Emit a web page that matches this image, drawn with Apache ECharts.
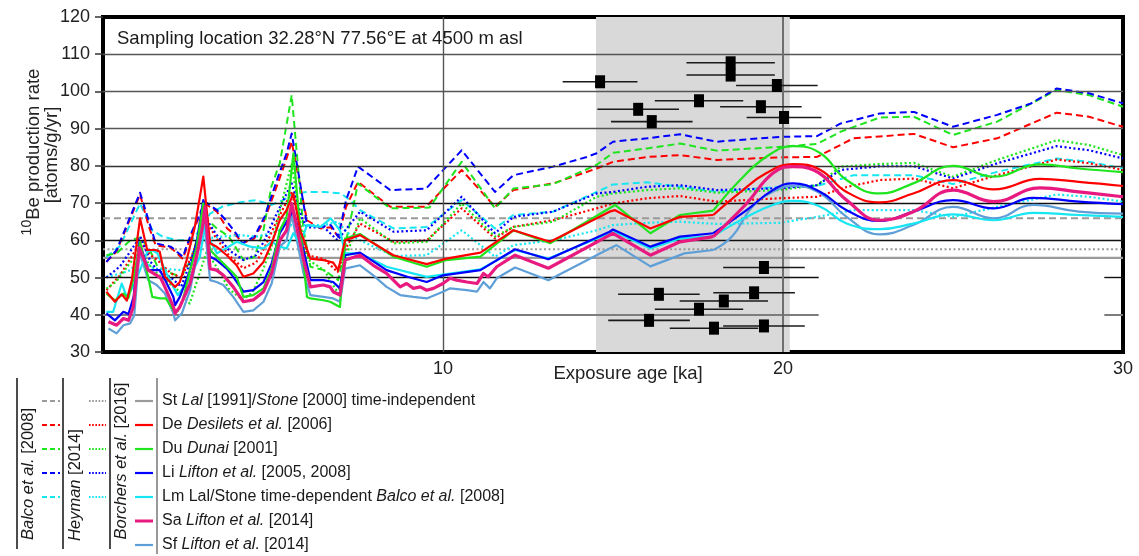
<!DOCTYPE html>
<html>
<head>
<meta charset="utf-8">
<script src="https://cdn.jsdelivr.net/npm/echarts@6.0.0/dist/echarts.min.js"></script>
<style>
  html, body { margin: 0; padding: 0; background: #ffffff; }
  #chart { width: 1139px; height: 556px; }
</style>
</head>
<body>
<div id="chart"></div>
<script>
// 10Be production-rate curves, each point is [exposure age (ka), rate (atoms/g/yr)]

// Balco et al. [2008] scaling (dashed)
const balcoDe = [[0.1,54.2],[0.4,57.0],[1.09,72.3],[1.35,63.6],[1.55,58.7],[2.0,58.0],[2.35,55.0],[2.6,61.5],[3.0,69.9],[3.35,67.7],[3.65,63.2],[3.95,61.0],[4.1,59.2],[4.45,60.5],[4.75,65.5],[5.15,75.5],[5.4,82.0],[5.55,86.5],[5.75,77.0],[6.0,65.4],[6.4,63.2],[6.7,63.5],[6.92,61.0],[7.15,69.0],[7.5,75.7],[8.45,69.0],[9.5,69.0],[10.55,78.9],[11.53,69.0],[12.07,73.5],[13.24,75.3],[14.52,79.3],[15.0,81.1],[16.0,82.4],[16.97,82.9],[18.05,81.6],[19.9,82.3],[21.0,82.4],[22.07,87.4],[23.85,88.6],[25.0,85.0],[26.3,87.4],[28.05,94.3],[29.0,93.2],[30,90.5]];
const balcoDu = [[0.1,56.0],[0.4,56.5],[0.8,60.0],[1.1,60.8],[1.4,57.0],[1.6,53.0],[1.9,51.5],[2.3,50.2],[2.6,55.0],[2.95,66.5],[3.35,63.2],[3.7,61.0],[3.95,57.4],[4.13,54.7],[4.45,55.5],[4.72,62.7],[4.95,74.4],[5.2,80.7],[5.55,99.0],[5.9,62.7],[6.1,52.9],[6.5,52.0],[6.92,49.3],[7.2,62.0],[7.5,75.3],[8.45,68.6],[9.6,68.8],[10.55,81.1],[11.53,68.6],[12.07,73.9],[13.24,75.1],[14.52,80.3],[15.0,83.5],[16.0,84.7],[16.97,86.0],[18.05,84.1],[19.9,85.1],[21.0,85.9],[21.7,89.2],[22.85,93.0],[23.85,93.2],[25.0,88.3],[26.3,91.9],[28.05,100.4],[29.0,99.0],[30,95.9]];
const balcoLi = [[0.1,54.2],[0.4,57.4],[1.09,72.8],[1.55,59.2],[2.0,58.3],[2.35,55.6],[2.6,62.0],[3.0,70.4],[3.35,68.1],[3.65,65.0],[3.95,61.4],[4.1,59.2],[4.45,61.0],[4.75,66.3],[5.15,77.1],[5.4,83.4],[5.55,88.7],[5.75,78.0],[6.0,64.1],[6.4,63.6],[6.7,64.1],[6.92,61.0],[7.15,70.8],[7.5,79.8],[8.45,73.5],[9.5,73.9],[10.1,79.8],[10.55,84.2],[11.53,73.0],[12.07,77.5],[13.24,79.8],[14.23,82.4],[14.52,83.4],[15.0,86.5],[16.0,87.4],[16.97,88.5],[18.05,86.5],[19.9,87.8],[21.0,88.0],[21.7,91.4],[22.85,94.1],[23.85,94.5],[25.0,90.5],[26.3,93.7],[27.3,96.8],[28.05,100.8],[29.0,99.5],[30,96.8]];
const balcoLm = [[0.1,55.5],[0.5,58.5],[1.09,69.9],[1.45,62.7],[1.75,61.0],[2.2,60.0],[2.6,60.0],[2.95,64.0],[3.15,67.2],[3.5,69.0],[4.0,70.2],[4.5,70.8],[4.95,69.5],[5.3,70.8],[5.6,72.6],[6.0,73.0],[6.5,73.0],[7.0,72.6],[7.3,70.5],[7.56,68.1],[8.55,63.2],[9.52,63.6],[10.55,70.8],[11.53,63.2],[12.07,66.8],[13.24,67.7],[14.52,73.0],[15.0,75.0],[16.0,75.6],[16.97,74.4],[18.05,73.0],[19.9,74.4],[21.0,74.6],[22.07,77.5],[23.85,77.5],[25.0,75.1],[26.3,78.4],[28.05,82.0],[29.0,81.1],[30,79.3]];

// Heyman [2014] scaling (dotted)
const heymanDe = [[0.1,46.6],[0.5,50.6],[0.8,55.0],[1.1,59.5],[1.4,56.0],[1.6,54.7],[2.0,51.1],[2.3,50.0],[2.6,55.5],[3.0,66.0],[3.3,61.0],[3.7,56.0],[4.13,52.5],[4.5,54.0],[4.75,58.0],[5.1,65.0],[5.55,73.0],[5.85,62.0],[6.0,56.0],[6.5,55.0],[6.9,51.5],[7.15,58.0],[7.56,64.5],[8.55,59.6],[9.52,60.0],[10.55,68.6],[11.53,60.5],[12.07,63.6],[13.24,65.4],[14.52,68.6],[15.0,69.9],[16.0,71.3],[16.97,71.9],[18.05,70.4],[19.9,71.3],[21.0,71.7],[21.9,74.4],[22.85,76.2],[23.85,76.6],[25.0,74.0],[26.3,77.5],[28.05,81.7],[29.0,80.7],[30,78.9]];
const heymanDu = [[0.1,47.0],[0.4,49.0],[0.8,54.0],[1.1,57.0],[1.4,53.0],[1.6,51.0],[2.0,48.0],[2.3,46.0],[2.55,43.0],[2.8,50.0],[3.05,57.0],[3.4,52.0],[3.7,47.0],[4.1,44.0],[4.4,46.0],[4.7,52.0],[4.95,58.0],[5.2,68.0],[5.55,80.7],[5.85,62.0],[6.0,55.0],[6.5,52.0],[6.92,45.7],[7.2,57.0],[7.56,65.9],[8.55,59.2],[9.52,59.6],[10.55,69.9],[11.53,61.0],[12.07,63.6],[13.24,65.0],[14.52,71.7],[15.0,72.6],[16.0,73.5],[16.97,74.0],[18.05,72.8],[19.9,73.5],[21.0,74.8],[21.7,79.8],[22.85,80.5],[23.85,80.8],[25.0,77.1],[26.3,81.6],[28.05,86.9],[29.0,85.6],[30,82.9]];
const heymanLi = [[0.1,50.0],[0.5,53.0],[0.8,57.0],[1.1,61.0],[1.4,54.2],[1.6,52.0],[2.0,50.0],[2.3,47.5],[2.6,55.0],[3.0,66.3],[3.3,62.0],[3.7,57.4],[4.13,54.7],[4.5,56.0],[4.75,60.0],[5.1,67.0],[5.55,75.3],[5.85,66.0],[6.0,63.5],[6.5,63.5],[6.9,60.0],[7.15,63.0],[7.56,67.7],[8.55,62.3],[9.52,62.7],[10.55,71.7],[11.53,61.9],[12.07,66.3],[13.24,67.7],[14.52,72.6],[15.0,73.0],[16.0,74.4],[16.97,74.8],[18.05,73.5],[19.9,74.0],[21.0,74.8],[21.7,78.9],[22.85,79.9],[23.85,79.9],[25.0,76.6],[26.3,80.7],[28.05,85.3],[29.0,84.2],[30,82.0]];
const heymanLm = [[0.1,50.2],[0.5,51.0],[0.8,52.0],[1.1,55.0],[1.5,52.4],[2.0,52.2],[2.3,52.0],[2.6,54.0],[3.0,60.5],[3.5,61.0],[4.0,61.4],[4.5,61.0],[5.0,62.0],[5.55,64.1],[6.0,64.1],[6.5,64.1],[6.9,65.0],[7.2,62.0],[7.56,60.0],[8.55,55.8],[9.52,56.0],[10.55,62.7],[11.53,55.6],[12.07,58.7],[13.24,60.0],[14.52,62.7],[15.0,64.1],[16.0,64.7],[16.97,65.0],[18.05,64.4],[19.9,64.7],[21.0,66.3],[22.07,68.1],[23.85,68.1],[25.0,66.3],[26.3,69.0],[28.05,72.3],[29.0,71.7],[30,70.4]];

// Borchers et al. [2016] scaling (solid)
const borchersDe = [[0.1,46.2],[0.35,43.5],[0.55,45.5],[0.7,43.8],[0.85,49.5],[1.09,65.9],[1.3,57.4],[1.55,57.4],[1.67,56.9],[1.82,50.2],[2.12,47.5],[2.26,48.8],[2.46,54.7],[2.7,63.6],[2.95,77.1],[3.15,59.2],[3.34,58.3],[3.64,56.0],[3.93,53.3],[4.13,50.2],[4.42,51.1],[4.72,54.2],[4.96,59.2],[5.2,65.4],[5.4,68.1],[5.6,72.6],[5.8,62.7],[6.1,55.1],[6.48,54.7],[6.77,54.0],[6.92,52.0],[7.12,60.0],[7.56,61.4],[8.54,56.0],[9.52,53.6],[10.1,55.1],[11.1,56.7],[12.07,62.7],[13.15,59.6],[14.9,67.7],[15.06,68.1],[16.1,63.2],[16.97,66.3],[17.95,66.8],[18.7,72.6],[19.5,78.0],[20.3,80.5],[21.1,78.9],[21.87,73.0],[22.85,70.2],[23.83,72.6],[25.0,76.2],[26.2,73.7],[27.56,76.5],[28.7,75.7],[30,74.6]];
const borchersDu = [[0.1,45.7],[0.35,43.9],[0.6,45.7],[0.75,44.5],[0.9,49.8],[1.09,59.5],[1.35,49.3],[1.45,44.8],[1.67,44.4],[1.85,44.4],[2.07,41.2],[2.2,41.0],[2.35,44.0],[2.56,52.0],[2.75,58.0],[2.95,69.9],[3.15,57.4],[3.44,54.7],[3.74,52.0],[3.93,50.2],[4.13,44.8],[4.42,45.3],[4.72,47.1],[4.96,52.4],[5.2,62.7],[5.4,66.3],[5.6,83.4],[5.8,63.0],[6.0,44.8],[6.1,44.4],[6.48,43.9],[6.68,43.5],[6.97,42.1],[7.12,60.5],[7.56,61.7],[8.54,55.6],[9.52,52.9],[10.1,54.7],[11.1,55.6],[12.07,62.7],[13.15,59.2],[14.9,68.6],[15.06,69.5],[16.1,61.9],[16.97,66.8],[17.95,68.0],[18.74,76.2],[19.5,82.4],[20.3,85.3],[21.1,83.4],[21.87,76.2],[22.85,72.6],[23.83,75.3],[25.0,80.0],[26.2,77.1],[27.56,80.4],[28.7,79.3],[30,78.3]];
const borchersLi = [[0.1,40.4],[0.35,38.5],[0.6,40.8],[0.75,40.2],[0.9,44.8],[1.07,59.6],[1.33,52.0],[1.67,52.0],[1.82,49.5],[2.07,44.8],[2.12,42.6],[2.26,44.8],[2.56,52.0],[2.75,59.2],[2.95,70.8],[3.15,55.6],[3.34,54.7],[3.64,52.4],[3.83,50.2],[4.13,46.2],[4.42,46.6],[4.72,48.8],[4.96,53.8],[5.2,61.9],[5.4,65.0],[5.6,68.0],[5.9,57.4],[6.1,49.3],[6.48,49.3],[6.77,48.8],[6.97,47.1],[7.12,56.0],[7.56,56.7],[8.34,52.0],[8.95,50.2],[9.52,48.8],[10.0,50.6],[11.1,52.0],[12.12,57.6],[13.1,54.9],[14.9,62.3],[15.0,62.9],[16.1,58.3],[16.97,61.0],[17.95,61.9],[18.93,68.1],[19.7,73.5],[20.3,75.3],[21.1,73.0],[21.87,68.1],[22.85,65.2],[23.83,67.7],[25.0,70.8],[26.2,68.6],[27.36,71.4],[28.7,70.4],[30,69.7]];
const borchersLm = [[0.1,40.8],[0.3,40.8],[0.55,48.4],[0.7,44.8],[0.85,47.0],[1.0,50.0],[1.3,56.9],[1.45,57.4],[1.6,56.5],[1.87,51.1],[2.07,47.5],[2.2,45.3],[2.5,49.0],[2.85,55.6],[3.0,64.0],[3.15,60.0],[3.35,56.5],[3.7,58.3],[3.93,59.6],[4.33,58.3],[4.72,57.8],[4.96,59.6],[5.2,58.3],[5.4,57.8],[5.6,61.9],[5.8,59.0],[6.0,64.1],[6.4,63.6],[6.7,65.9],[6.97,62.7],[7.12,56.5],[7.56,56.5],[8.34,52.9],[9.52,50.2],[11.1,52.2],[12.12,57.4],[13.1,55.1],[14.9,61.9],[15.06,62.3],[16.1,57.8],[16.97,60.5],[17.95,61.1],[18.93,66.3],[19.7,69.5],[20.3,70.6],[21.1,69.0],[21.87,64.5],[22.85,63.0],[23.83,64.5],[25.0,67.0],[26.2,65.4],[27.36,67.4],[28.7,66.8],[30,66.3]];
const borchersSa = [[0.16,38.1],[0.4,37.2],[0.6,39.0],[0.75,38.5],[0.89,42.1],[1.07,58.0],[1.33,52.0],[1.58,50.6],[1.7,49.8],[1.82,47.5],[2.07,42.1],[2.12,40.4],[2.26,42.1],[2.56,48.4],[2.75,55.6],[2.93,63.6],[3.0,69.0],[3.15,52.4],[3.34,52.0],[3.54,50.6],[3.83,47.5],[4.13,43.5],[4.42,44.0],[4.72,46.2],[4.96,51.1],[5.2,60.0],[5.4,62.7],[5.55,69.9],[5.9,54.7],[6.1,47.5],[6.48,48.0],[6.68,47.5],[6.77,46.2],[6.97,45.3],[7.12,54.7],[7.56,56.0],[7.95,53.3],[8.34,51.1],[8.74,47.5],[8.93,48.4],[9.13,47.1],[9.33,47.5],[9.52,46.6],[9.72,47.1],[10.0,48.4],[10.21,49.8],[10.4,49.3],[10.7,48.8],[11.0,48.4],[11.19,51.1],[11.33,50.2],[11.58,52.9],[12.12,56.0],[13.1,52.5],[14.9,61.4],[15.0,61.9],[16.1,56.0],[16.97,59.6],[17.95,61.0],[18.93,69.9],[19.7,78.0],[20.3,79.8],[20.9,78.9],[21.87,70.8],[22.85,65.4],[23.83,67.7],[25.0,73.5],[26.2,70.4],[27.56,74.1],[28.7,73.0],[30,71.7]];
const borchersSf = [[0.16,36.3],[0.4,35.0],[0.6,37.2],[0.8,37.7],[0.92,39.9],[1.07,57.0],[1.33,49.3],[1.58,48.0],[1.82,45.7],[2.07,40.4],[2.12,38.5],[2.32,40.4],[2.56,46.6],[2.8,57.4],[2.95,67.2],[3.15,49.3],[3.34,48.8],[3.54,48.0],[3.83,44.8],[4.13,40.8],[4.42,41.2],[4.72,43.5],[4.96,48.4],[5.2,58.3],[5.4,60.0],[5.55,66.8],[5.9,51.1],[6.1,45.3],[6.48,44.8],[6.77,44.4],[6.97,43.5],[7.12,52.4],[7.56,53.3],[7.95,50.6],[8.34,47.5],[8.74,45.3],[9.13,44.8],[9.52,44.4],[10.0,46.2],[10.21,47.1],[10.7,46.6],[11.0,46.2],[11.19,48.8],[11.38,47.1],[11.58,49.8],[12.12,52.7],[13.1,49.3],[14.9,57.8],[15.1,58.7],[16.1,53.0],[17.1,56.5],[17.95,57.4],[18.5,61.0],[19.1,69.0],[19.8,73.5],[20.3,74.6],[21.1,72.6],[21.87,66.3],[22.85,61.6],[23.83,64.1],[25.0,69.0],[26.2,65.9],[27.36,69.5],[28.7,67.7],[30,67.2]];

// Time-independent St rates: Balco, Heyman, Borchers
const stRates = [65.9, 57.6, 55.3];

// Boulder samples: exposure age (ka), production rate, 1-sigma age uncertainty (ka)
const sampleAge    = [14.62, 18.46, 18.46, 19.82, 17.53, 15.74, 19.35, 16.14, 20.03, 19.44, 16.35, 19.15, 18.26, 17.53, 16.06, 17.97, 19.44];
const sampleRate   = [102.6, 107.7, 104.4, 101.6, 97.5, 95.2, 95.9, 91.9, 93.0, 52.7, 45.5, 45.9, 43.7, 41.5, 38.5, 36.4, 37.0];
const sampleAgeErr = [1.1, 1.3, 1.3, 1.2, 1.3, 1.2, 1.2, 1.2, 1.1, 1.2, 1.2, 1.2, 1.3, 1.3, 1.2, 1.3, 1.2];

// Axis ranges and reference lines
const ageRange = [0, 30];
const rateRange = [30, 120];
const gridLevels = [110, 100, 90, 80, 70, 60, 50, 40];
const glacialBand = [14.5, 20.2];

const FONT = '"Liberation Sans", Arial, Helvetica, sans-serif';
const COL = {
  gray: '#9a9a9a', red: '#ff0000', green: '#1ee51e', blue: '#0000ff',
  cyan: '#16e6f2', magenta: '#e8197f', steel: '#5f9fd8'
};
const DASH = [7, 4];
const DOT = [2, 2.5];

const chart = echarts.init(document.getElementById('chart'), null, { renderer: 'canvas' });

function curve(name, data, color, type, width, z, smooth) {
  return {
    name, type: 'line', data, symbol: 'none', showSymbol: false, silent: true,
    smooth: smooth || false, z: z,
    lineStyle: { color, width, type, cap: 'butt', join: 'round' }
  };
}

// solid Borchers curves: jagged polyline to ~18 ka, smooth afterwards
function solidCurve(name, data, color, width, z) {
  const split = 17.95;
  return [
    curve(name, data.filter(p => p[0] <= split), color, 'solid', width, z),
    curve(name, data.filter(p => p[0] >= split), color, 'solid', width, z, 0.45)
  ];
}

// horizontal reference lines (50 and 40 are broken over the later ages)
function gridStyle(v) {
  if (v === 40) return { color: '#7d7d7d', width: 2, type: 'solid' };
  if (v >= 90) return { color: '#555555', width: 1.4, type: 'solid' };
  if (v === 80) return { color: '#333333', width: 1.4, type: 'solid' };
  return { color: '#111111', width: 1.4, type: 'solid' };
}
const gridLineData = [];
gridLevels.forEach(v => {
  const spans = (v === 50 || v === 40) ? [[0, 21.05], [29.45, 30]] : [[0, 30]];
  spans.forEach(s => gridLineData.push([
    { coord: [s[0], v], lineStyle: gridStyle(v) },
    { coord: [s[1], v] }
  ]));
});
gridLineData.push({ xAxis: 10, lineStyle: { color: '#555555', width: 1.4, type: 'solid' } });
gridLineData.push({ xAxis: 20, lineStyle: { color: '#6f6f6f', width: 2, type: 'solid' } });

const series = [];
series.push({
  type: 'line', data: [[0, 30]], symbol: 'none', showSymbol: false, silent: true, z: 1,
  lineStyle: { width: 0, opacity: 0 },
  markArea: {
    silent: true, itemStyle: { color: '#d9d9d9' },
    data: [[{ xAxis: glacialBand[0] }, { xAxis: glacialBand[1] }]]
  },
  markLine: {
    silent: true, symbol: ['none', 'none'], label: { show: false },
    animation: false, data: gridLineData
  }
});

// St (time-independent) levels
const stTypes = [DASH, DOT, 'solid'];
stRates.forEach((v, i) => {
  series.push(curve('St', [[ageRange[0], v], [ageRange[1], v]], COL.gray, stTypes[i], i === 2 ? 2.4 : 2, 3));
});

// dashed Balco
series.push(curve('Lm', balcoLm, COL.cyan, DASH, 2, 4));
series.push(curve('De', balcoDe, COL.red, DASH, 2, 4));
series.push(curve('Du', balcoDu, COL.green, DASH, 2, 4));
series.push(curve('Li', balcoLi, COL.blue, DASH, 2, 4));
// dotted Heyman
series.push(curve('Lm', heymanLm, COL.cyan, DOT, 2.2, 4));
series.push(curve('De', heymanDe, COL.red, DOT, 2.2, 4));
series.push(curve('Du', heymanDu, COL.green, DOT, 2.2, 4));
series.push(curve('Li', heymanLi, COL.blue, DOT, 2.2, 4));
// solid Borchers
series.push(...solidCurve('Sf', borchersSf, COL.steel, 2.2, 5));
series.push(...solidCurve('Lm', borchersLm, COL.cyan, 2.2, 5));
series.push(...solidCurve('Li', borchersLi, COL.blue, 2.2, 5));
series.push(...solidCurve('Du', borchersDu, COL.green, 2.2, 5));
series.push(...solidCurve('De', borchersDe, COL.red, 2.2, 5));
series.push(...solidCurve('Sa', borchersSa, COL.magenta, 3.2, 5));

// samples with horizontal age error bars
series.push({
  type: 'custom', silent: true, z: 8, clip: false,
  data: sampleAge.map((a, i) => [a, sampleRate[i], sampleAgeErr[i]]),
  renderItem: function (params, api) {
    const a = api.value(0), r = api.value(1), e = api.value(2);
    const p0 = api.coord([a - e, r]);
    const p1 = api.coord([a + e, r]);
    const c = api.coord([a, r]);
    return {
      type: 'group',
      children: [
        { type: 'line', shape: { x1: p0[0], y1: p0[1], x2: p1[0], y2: p1[1] },
          style: { stroke: '#1a1a1a', lineWidth: 1.6 } },
        { type: 'rect', shape: { x: c[0] - 5, y: c[1] - 6.5, width: 10, height: 13 },
          style: { fill: '#000000' } }
      ]
    };
  }
});

// ---- legend and annotation graphics ----
const legendRows = [
  { text: '{n|St }{i|Lal}{n| [1991]/}{i|Stone}{n| [2000] time-independent}', color: COL.gray, groups: 3 },
  { text: '{n|De }{i|Desilets et al.}{n| [2006]}', color: COL.red, groups: 3 },
  { text: '{n|Du }{i|Dunai}{n| [2001]}', color: COL.green, groups: 3 },
  { text: '{n|Li }{i|Lifton et al.}{n| [2005, 2008]}', color: COL.blue, groups: 3 },
  { text: '{n|Lm Lal/Stone time-dependent }{i|Balco et al.}{n| [2008]}', color: COL.cyan, groups: 3 },
  { text: '{n|Sa }{i|Lifton et al.}{n| [2014]}', color: COL.magenta, groups: 1 },
  { text: '{n|Sf }{i|Lifton et al.}{n| [2014]}', color: COL.steel, groups: 1 }
];
const richLegend = {
  n: { fontSize: 16, fontFamily: FONT, fill: '#1a1a1a' },
  i: { fontSize: 16, fontFamily: FONT, fontStyle: 'italic', fill: '#1a1a1a' }
};
const graphics = [];
const rowY0 = 401, rowStep = 24;
legendRows.forEach((row, k) => {
  const y = rowY0 + k * rowStep;
  if (row.groups === 3) {
    graphics.push({ type: 'line', shape: { x1: 42, y1: y, x2: 60, y2: y },
      style: { stroke: row.color, lineWidth: 2, lineDash: [5, 3] } });
    graphics.push({ type: 'line', shape: { x1: 89, y1: y, x2: 106, y2: y },
      style: { stroke: row.color, lineWidth: 2, lineDash: [1.6, 1.6] } });
  }
  graphics.push({ type: 'line', shape: { x1: 135, y1: y, x2: 153, y2: y },
    style: { stroke: row.color, lineWidth: row.color === COL.magenta ? 3 : 2.2 } });
  graphics.push({ type: 'text', x: 162, y: y,
    style: { text: row.text, rich: richLegend, align: 'left', verticalAlign: 'middle',
             textAlign: 'left', textVerticalAlign: 'middle', fontSize: 16, fontFamily: FONT, fill: '#1a1a1a' } });
});
// group separators
[[17, 378, 549, '#111'], [63, 378, 549, '#111'], [110, 378, 549, '#111'], [157, 378, 554, '#777']].forEach(s => {
  graphics.push({ type: 'line', shape: { x1: s[0], y1: s[1], x2: s[0], y2: s[2] },
    style: { stroke: s[3], lineWidth: 1.5 } });
});
// rotated group titles
const richGroup = {
  n: { fontSize: 16.5, fontFamily: FONT, fill: '#1a1a1a' },
  i: { fontSize: 16.5, fontFamily: FONT, fontStyle: 'italic', fill: '#1a1a1a' }
};
[[28.5, 474, '{i|Balco et al.}{n| [2008]}'], [75, 485, '{i|Heyman}{n| [2014]}'],
 [121.5, 461, '{i|Borchers et al.}{n| [2016]}']].forEach(g => {
  graphics.push({ type: 'text', x: g[0], y: g[1], rotation: Math.PI / 2,
    style: { text: g[2], rich: richGroup, align: 'center', verticalAlign: 'middle',
             textAlign: 'center', textVerticalAlign: 'middle' } });
});
// sampling-site annotation
graphics.push({ type: 'text', x: 117, y: 39, z: 20,
  style: { text: 'Sampling location 32.28°N 77.56°E at 4500 m asl', fontSize: 18.5, fontFamily: FONT,
           fill: '#1a1a1a', align: 'left', verticalAlign: 'middle', textAlign: 'left', textVerticalAlign: 'middle' } });
// axis titles
graphics.push({ type: 'text', x: 628, y: 374,
  style: { text: 'Exposure age [ka]', fontSize: 18.5, fontFamily: FONT, fill: '#222',
           align: 'center', verticalAlign: 'middle', textAlign: 'center', textVerticalAlign: 'middle' } });
graphics.push({ type: 'text', x: 32, y: 152, rotation: Math.PI / 2,
  style: { text: '{sup|10}{m|Be production rate}', align: 'center', verticalAlign: 'middle',
           textAlign: 'center', textVerticalAlign: 'middle',
           rich: {
             sup: { fontSize: 14, fontFamily: FONT, fill: '#222', padding: [0, 0, 9, 0] },
             m: { fontSize: 18.5, fontFamily: FONT, fill: '#222', padding: [3, 0, 0, 0] }
           } } });
graphics.push({ type: 'text', x: 52, y: 155, rotation: Math.PI / 2,
  style: { text: '[atoms/g/yr]', fontSize: 18.5, fontFamily: FONT, fill: '#222',
           align: 'center', verticalAlign: 'middle', textAlign: 'center', textVerticalAlign: 'middle' } });

const option = {
  animation: false,
  backgroundColor: '#ffffff',
  grid: { left: 103, top: 17, width: 1020, height: 335, show: true,
          borderColor: '#000000', borderWidth: 4, backgroundColor: 'transparent', containLabel: false },
  xAxis: {
    type: 'value', min: ageRange[0], max: ageRange[1], interval: 10,
    axisLine: { show: false }, axisTick: { show: false }, splitLine: { show: false },
    axisLabel: { fontSize: 18, fontFamily: FONT, color: '#222', margin: 8,
                 formatter: v => (v === 0 ? '' : String(v)) }
  },
  yAxis: {
    type: 'value', min: rateRange[0], max: rateRange[1], interval: 10,
    axisLine: { show: false },
    axisTick: { show: true, inside: false, length: 8, lineStyle: { color: '#333', width: 1.5 } },
    splitLine: { show: false },
    axisLabel: { fontSize: 18, fontFamily: FONT, color: '#222', margin: 13 }
  },
  graphic: { elements: graphics },
  series: series
};
chart.setOption(option);
</script>
</body>
</html>
